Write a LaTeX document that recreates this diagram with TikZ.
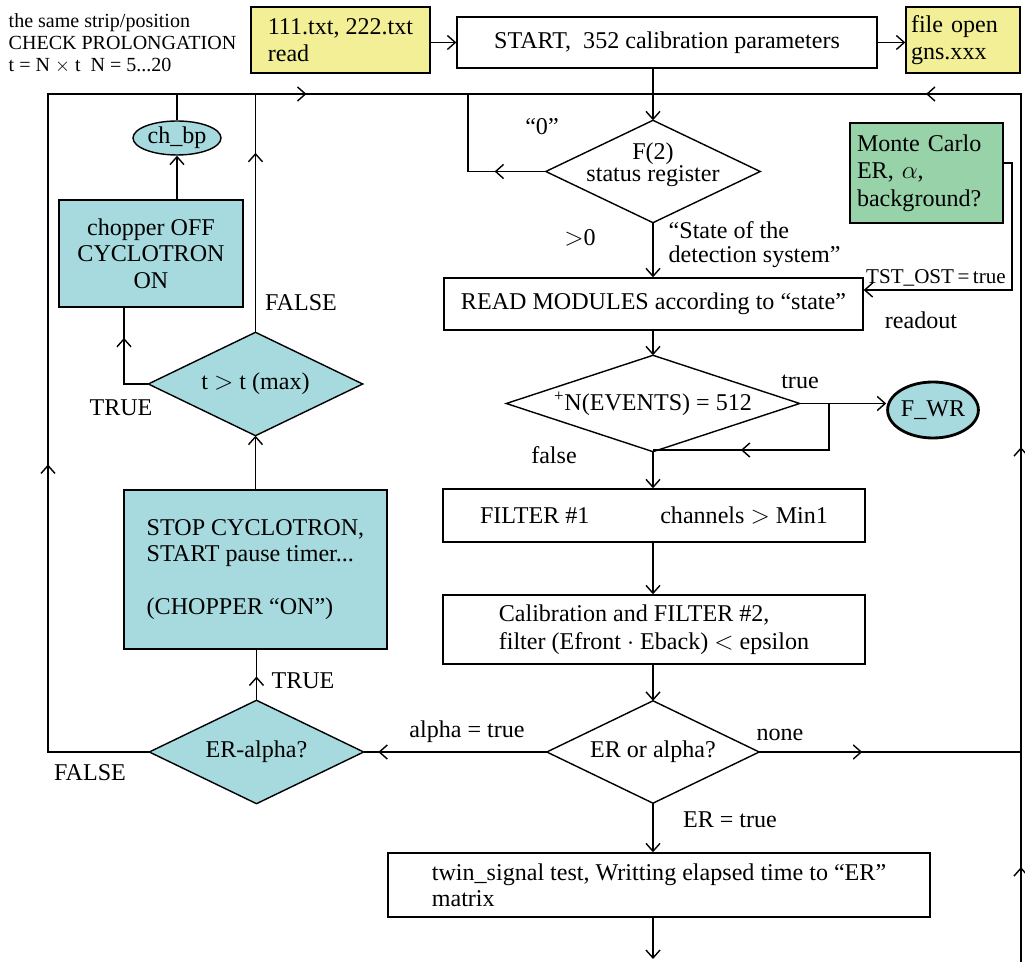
\documentclass[tikz,border=0pt]{standalone}
\usepackage{fontspec}
\setmainfont{Liberation Serif}
\usetikzlibrary{arrows.meta,shapes.geometric,backgrounds,decorations.markings}
\definecolor{ybox}{RGB}{242,239,150}
\definecolor{cbox}{RGB}{166,218,222}
\definecolor{gbox}{RGB}{152,210,168}
\newcommand\fontMain{\fontsize{13.7pt}{15pt}\selectfont}
\newcommand\fontSmall{\fontsize{11.4pt}{12.6pt}\selectfont}
\newcommand\fontTst{\fontsize{12pt}{12.5pt}\selectfont}
\newcommand\fontTight{\fontsize{13.7pt}{12.5pt}\selectfont}
\newcommand\fontState{\fontsize{13.7pt}{13.6pt}\selectfont}
\newcommand\fontMC{\fontsize{13.7pt}{15.6pt}\selectfont}
\newcommand\fontCal{\fontsize{13.7pt}{16pt}\selectfont}
\begin{document}
\begin{tikzpicture}[x=0.02cm, y=-0.02cm, line width=0.8pt,
  >={Straight Barb[length=4.5pt,width=8pt]},
  font=\fontMain,
  box/.style={draw, fill=white, inner sep=0pt, align=center},
  dia/.style={inner sep=0pt, align=center},
  lab/.style={inner sep=0pt},
  am/.style={postaction={decorate, decoration={markings, mark=at position #1 with {\arrow{>}}}}},
  diashape/.style={draw, line width=0.8pt}]
\useasboundingbox (0,0) rectangle (1025,962);

% top row
\node[box, fill=ybox, minimum width=3.58cm, minimum height=1.32cm, align=left] (b1) at (340.5,40) {111.txt, 222.txt\\read};
\node[box, minimum width=8.4cm, minimum height=1.02cm] (start) at (667,42.5) {START,\ \ 352 calibration parameters};
\node[box, fill=ybox, minimum width=2.28cm, minimum height=1.32cm, text width=2.08cm, align=left] (b2) at (963,40) {file open\\gns.xxx};
\node[lab, align=left, anchor=west, font=\fontSmall] (tl0) at (8,43) {the same strip/position\\CHECK PROLONGATION\\t = N $\times$ t\ \ N = 5...20};

% main spine
\node[dia, minimum width=4.26cm, minimum height=2.02cm,
  label={[name=f2t, align=center, yshift=0.13cm, font=\fontTight]center:F(2)\\status register}] (f2) at (653,171.5) {};
\node[lab] (q0) at (542,127) {“0”};
\node[lab] (gt0) at (580,238) {$>$0};
\node[lab, align=left, anchor=west, font=\fontState] (stl) at (668,245) {“State of the\\detection system”};
\node[box, minimum width=8.38cm, minimum height=1.04cm] (read) at (653.5,304) {READ MODULES according to “state”};
\node[box, fill=gbox, minimum width=3.06cm, minimum height=2cm, text width=2.78cm, align=left, font=\fontMC] (mc) at (926.5,173) {Monte Carlo\\ER, $\alpha$,\\background?};
\node[lab, font=\fontTst] (tst) at (936,278) {TST\_OST\,=\,true};
\node[lab] (rdo) at (921,320) {readout};

\node[dia, minimum width=5.84cm, minimum height=1.9cm] (nev) at (653,403.5) {\textsuperscript{+}N(EVENTS) = 512};
\node[lab] (ltrue) at (800,382) {true};
\node[lab] (lfalse) at (554,455) {false};
\node[draw, ellipse, fill=cbox, line width=1.6pt, minimum width=1.8cm, minimum height=1.12cm, inner sep=0pt] (fwr) at (933,410) {F\_WR};

\node[box, minimum width=8.44cm, minimum height=1.06cm] (filter) at (654,515.5) {\makebox[6.96cm][l]{FILTER $\#$1\hfill channels $>$ Min1}};
\node[box, minimum width=8.44cm, minimum height=1.38cm, align=left, font=\fontCal] (calib) at (654,629.5) {Calibration and FILTER $\#$2,\\filter (Efront $\cdot$ Eback) $<$ epsilon};

\node[dia, minimum width=4.22cm, minimum height=2.02cm] (eroa) at (653,752) {ER or alpha?};
\node[lab] (lalpha) at (467,732) {alpha = true};
\node[lab] (lnone) at (780,735) {none};
\node[lab] (lert) at (730,820) {ER = true};
\node[box, minimum width=10.84cm, minimum height=1.28cm, align=left] (twin) at (659,885) {twin\_signal test, Writting elapsed time to “ER”\\matrix};

% left column
\node[dia, minimum width=4.26cm, minimum height=2.04cm] (eralpha) at (256.5,752) {ER-alpha?};
\node[lab] (lF1) at (90,773) {FALSE};
\node[lab] (lT1) at (303,681) {TRUE};
\node[box, fill=cbox, minimum width=5.26cm, minimum height=3.18cm, align=left] (stop) at (255.5,569.5) {STOP CYCLOTRON,\\START pause timer...\\[15pt](CHOPPER “ON”)};
\node[dia, minimum width=4.26cm, minimum height=2.04cm] (tt) at (255.5,384) {t $>$ t (max)};
\node[lab] (lT2) at (121,408) {TRUE};
\node[lab] (lF2) at (301,303) {FALSE};
\node[box, fill=cbox, minimum width=3.68cm, minimum height=2.14cm] (chop) at (151,253.5) {chopper OFF\\CYCLOTRON\\ON};
\node[draw, ellipse, fill=cbox, minimum width=1.76cm, minimum height=0.68cm, inner sep=0pt] (chbp) at (177,138) {ch\_bp};

% diamonds
\begin{scope}[on background layer]
  \draw[diashape, fill=white] (f2.west) -- (f2.north) -- (f2.east) -- (f2.south) -- cycle;
  \draw[diashape, fill=white] (nev.west) -- (nev.north) -- (nev.east) -- (nev.south) -- cycle;
  \draw[diashape, fill=white] (eroa.west) -- (eroa.north) -- (eroa.east) -- (eroa.south) -- cycle;
  \draw[diashape, fill=cbox] (eralpha.west) -- (eralpha.north) -- (eralpha.east) -- (eralpha.south) -- cycle;
  \draw[diashape, fill=cbox] (tt.west) -- (tt.north) -- (tt.east) -- (tt.south) -- cycle;
\end{scope}

% helper coordinates
\coordinate (lb) at (48,752);
\coordinate (tl) at (48,94);
\coordinate (tj) at (653,94);
\coordinate (tr) at (1021,94);
\coordinate (rm) at (1021,752);
\coordinate (rb) at (1021,962);
\coordinate (zc) at (468,171.5);
\coordinate (mc1) at (1012,163);
\coordinate (mc2) at (1012,290);
\coordinate (br1) at (829,403.5);
\coordinate (br2) at (829,450);
\coordinate (tc) at (124,384);
\coordinate (bot) at (653,959);

% connectors
\draw[->] (b1.east |- start.west) -- (start.west);
\draw[->] (start.east) -- (start.east -| b2.west);
\draw[->] (f2.north |- start.south) -- (f2.north);
\draw[am=0.33] (f2.west) -- (zc) -- (zc |- tj);
\draw[->] (f2.south) -- (f2.south |- read.north);
\draw[->] (mc.east |- mc1) -- (mc1) -- (mc2) -- (mc2 -| read.east);
\draw[->] (nev.north |- read.south) -- (nev.north);
\draw[->] (nev.east) -- (nev.east -| fwr.west);
\draw[am=0.605] (br1) -- (br2) -- (br2 -| nev.south);
\draw[->] (nev.south) -- (nev.south |- filter.north);
\draw[->] (nev.south |- filter.south) -- (nev.south |- calib.north);
\draw[->] (eroa.north |- calib.south) -- (eroa.north);
\draw[am=0.92] (eroa.west) -- (eralpha.east);
\draw[am=0.080, am=0.440, am=0.788] (eroa.east) -- (rm) -- (tr) -- (tj);
\draw[am=0.452] (rb) -- (rm);
\draw[->] (eroa.south) -- (eroa.south |- twin.north);
\draw[->] (eroa.south |- twin.south) -- (bot);
\draw[am=0.285, am=0.746] (eralpha.west) -- (lb) -- (tl) -- (tj);
\draw[am=0.47] (eralpha.north) -- (eralpha.north |- stop.south);
\draw[->] (tt.north |- stop.north) -- (tt.south);
\draw[am=0.70] (tt.west) -- (tc) -- (tc |- chop.south);
\draw[am=0.753] (tt.north) -- (tt.north |- tj);
\draw[->] (chbp.south |- chop.north) -- (chbp.south);
\draw (chbp.north) -- (chbp.north |- tj);
\end{tikzpicture}
\end{document}
